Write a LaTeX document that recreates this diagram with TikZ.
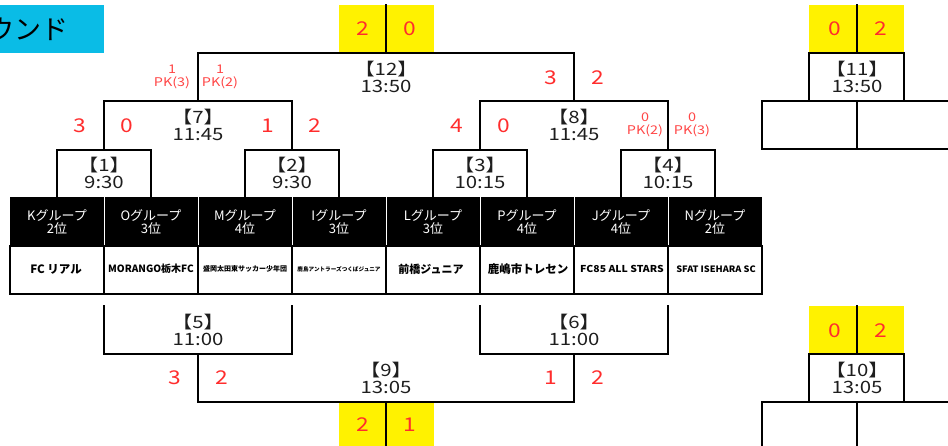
\documentclass[tikz,border=0pt]{standalone}
\usepackage{fontspec}
\setmainfont{Noto Sans CJK JP}
\newfontfamily\widefont[FakeStretch=1.2]{Noto Sans CJK JP}
\definecolor{scorered}{RGB}{255,45,45}
\definecolor{pkred}{RGB}{255,70,70}
\definecolor{titlecyan}{RGB}{10,188,230}
\definecolor{labelgray}{RGB}{30,30,30}
\tikzset{
  brk/.style={line width=1.3pt, line cap=rect},
  score/.style={text=scorered, inner sep=0pt, font=\widefont\fontsize{19}{19}\selectfont},
  pk/.style={text=pkred, inner sep=0pt, align=center, font=\widefont\fontsize{12}{12.5}\selectfont},
  mlabel/.style={text=labelgray, inner sep=0pt, align=center, font=\widefont\fontsize{17}{17.5}\selectfont},
  yel/.style={fill=yellow},
  hdr/.style={text=white, inner sep=0pt, align=center, font=\fontsize{13}{13}\selectfont},
  team/.style={inner sep=0pt},
}
\begin{document}
\begin{tikzpicture}[x=1pt,y=-1pt]
\useasboundingbox (0,0) rectangle (948,446);
\clip (0,0) rectangle (948,446);
% title
\fill[titlecyan] (0,5) rectangle (104,53);
\node[anchor=east, inner sep=0pt, font=\fontsize{27}{27}\selectfont] (title) at (69,29) {ラウンド};

% yellow score boxes
\fill[yel] (339,5) rectangle (434,53);
\fill[yel] (809,5) rectangle (904,53);
\fill[yel] (339,402) rectangle (434,446);
\fill[yel] (809,306) rectangle (904,354);

% table header
\fill[black] (10,197) rectangle (762,246);
\foreach \x in {104,198,292,386,480,574,668}
  \draw[white, line width=0.8pt] (\x,197) -- (\x,246);
\draw[line width=1.2pt] (10,246) rectangle (762,294);
\foreach \x in {104,198,292,386,480,574,668}
  \draw[line width=1.2pt] (\x,246) -- (\x,294);

% headers
\node[hdr] (h1) at (57,222) {Kグループ\\2位};
\node[hdr] (h2) at (151,222) {Oグループ\\3位};
\node[hdr] (h3) at (245,222) {Mグループ\\4位};
\node[hdr] (h4) at (339,222) {Iグループ\\3位};
\node[hdr] (h5) at (433,222) {Lグループ\\3位};
\node[hdr] (h6) at (527,222) {Pグループ\\4位};
\node[hdr] (h7) at (621,222) {Jグループ\\4位};
\node[hdr] (h8) at (715,222) {Nグループ\\2位};

% teams
\node[team, font=\bfseries\fontsize{11.5}{11.5}\selectfont] (t1) at (56,269) {FC リアル};
\node[team, font=\bfseries\fontsize{10}{10}\selectfont] (t2) at (151,269) {MORANGO栃木FC};
\node[team, font=\bfseries\fontsize{7}{7}\selectfont] (t3) at (245,269) {盛岡太田東サッカー少年団};
\node[team, font=\bfseries\fontsize{5.6}{6}\selectfont] (t4) at (339,269) {鹿島アントラーズつくばジュニア};
\node[team, font=\bfseries\fontsize{11}{11}\selectfont] (t5) at (431,269) {前橋ジュニア};
\node[team, font=\bfseries\fontsize{11.5}{11.5}\selectfont] (t6) at (528,269) {鹿嶋市トレセン};
\node[team, font=\bfseries\fontsize{9.5}{9.5}\selectfont] (t7) at (622,269) {\scalebox{1.1}[1]{FC85 ALL STARS}};
\node[team, font=\bfseries\fontsize{8.8}{8.8}\selectfont] (t8) at (716,269) {\scalebox{1.05}[1]{SFAT ISEHARA SC}};

% top bracket
\draw[brk] (57,197) -- (57,150) -- (151,150) -- (151,197);
\draw[brk] (104,150) -- (104,101);
\draw[brk] (245,197) -- (245,150) -- (339,150) -- (339,197);
\draw[brk] (292,150) -- (292,101);
\draw[brk] (433,197) -- (433,150) -- (527,150) -- (527,197);
\draw[brk] (480,150) -- (480,101);
\draw[brk] (621,197) -- (621,150) -- (715,150) -- (715,197);
\draw[brk] (668,150) -- (668,101);
\draw[brk] (104,101) -- (292,101);
\draw[brk] (198,101) -- (198,53);
\draw[brk] (480,101) -- (668,101);
\draw[brk] (574,101) -- (574,53);
\draw[brk] (198,53) -- (574,53);
\draw[brk] (386,53) -- (386,5);

% match 11
\draw[brk] (857,5) -- (857,53);
\draw[brk] (809,53) rectangle (904,101);
\draw[brk] (762,101) -- (948,101);
\draw[brk] (762,101) -- (762,149) -- (948,149);
\draw[brk] (857,101) -- (857,149);

% bottom bracket
\draw[brk] (104,306) -- (104,354) -- (292,354) -- (292,306);
\draw[brk] (198,354) -- (198,402);
\draw[brk] (480,306) -- (480,354) -- (668,354) -- (668,306);
\draw[brk] (574,354) -- (574,402);
\draw[brk] (198,402) -- (574,402);
\draw[brk] (386,402) -- (386,446);

% match 10
\draw[brk] (857,306) -- (857,354);
\draw[brk] (809,354) rectangle (904,402);
\draw[brk] (762,402) -- (948,402);
\draw[brk] (762,402) -- (762,446);
\draw[brk] (857,402) -- (857,446);

% match labels
\node[mlabel] (m1) at (104,173) {【1】\\9:30};
\node[mlabel] (m2) at (292,173) {【2】\\9:30};
\node[mlabel] (m3) at (480,173) {【3】\\10:15};
\node[mlabel] (m4) at (668,173) {【4】\\10:15};
\node[mlabel] (m7) at (198,125) {【7】\\11:45};
\node[mlabel] (m8) at (574,125) {【8】\\11:45};
\node[mlabel] (m12) at (386,77) {【12】\\13:50};
\node[mlabel] (m11) at (857,77) {【11】\\13:50};
\node[mlabel] (m5) at (198,330) {【5】\\11:00};
\node[mlabel] (m6) at (574,330) {【6】\\11:00};
\node[mlabel] (m9) at (386,378) {【9】\\13:05};
\node[mlabel] (m10) at (857,378) {【10】\\13:05};

% scores
\node[score] (s1a) at (80,126) {3};
\node[score] (s1b) at (127,126) {0};
\node[score] (s2a) at (268,126) {1};
\node[score] (s2b) at (315,126) {2};
\node[score] (s3a) at (457,126) {4};
\node[score] (s3b) at (504,126) {0};
\node[pk] (s4a) at (645,125) {0\\PK(2)};
\node[pk] (s4b) at (692,125) {0\\PK(3)};
\node[pk] (s7a) at (172,77) {1\\PK(3)};
\node[pk] (s7b) at (220,77) {1\\PK(2)};
\node[score] (s8a) at (551,78) {3};
\node[score] (s8b) at (598,78) {2};
\node[score] (s12a) at (363,29) {2};
\node[score] (s12b) at (410,29) {0};
\node[score] (s11a) at (835,29) {0};
\node[score] (s11b) at (881,29) {2};
\node[score] (s5a) at (175,378) {3};
\node[score] (s5b) at (222,378) {2};
\node[score] (s6a) at (551,378) {1};
\node[score] (s6b) at (598,378) {2};
\node[score] (s9a) at (363,425) {2};
\node[score] (s9b) at (410,425) {1};
\node[score] (s10a) at (835,331) {0};
\node[score] (s10b) at (881,331) {2};
\end{tikzpicture}
\end{document}
